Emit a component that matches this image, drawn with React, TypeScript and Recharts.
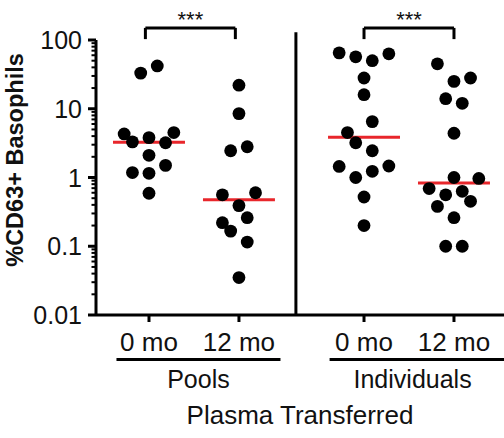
import React from 'react';
import { ScatterChart, Scatter, XAxis, YAxis, ReferenceLine } from 'recharts';

// ---- labels ----
const timepointLabels = ['0 mo', '12 mo', '0 mo', '12 mo'];
const groupLabels = ['Pools', 'Individuals'];
const yMajorTicks = [0.01, 0.1, 1, 10, 100];
const yTickLabels = ['0.01', '0.1', '1', '10', '100'];
const significance = ['***', '***'];
const yTitle = '%CD63+ Basophils';
const xTitle = 'Plasma Transferred';

// ---- data (value, jitter lane) ----
const pools0mo = [33, 42, 4.3, 3.3, 3.8, 3.2, 4.5, 2.1, 1.18, 1.15, 1.5, 0.59];
const pools0moLane = [-1, 1, -3, -2, 0, 2, 3, 0, -2, 0, 2, 0];
const pools12mo = [22, 8.5, 2.45, 2.8, 0.56, 0.6, 0.39, 0.26, 0.22, 0.166, 0.115, 0.035];
const pools12moLane = [0, 0, -1, 1, -2, 2, 0, 1, -2, -1, 1, 0];
const indiv0mo = [65, 57, 50, 63, 28, 16, 6.5, 4.5, 3.2, 2.45, 1.45, 1.47, 1.23, 1.0, 0.52, 0.2];
const indiv0moLane = [-3, -1, 1, 3, 0, 0, 1, -2, -1, 1, -3, 3, 1, -1, 0, 0];
const indiv12mo = [45, 25, 28, 14, 12, 4.4, 1.0, 0.97, 0.69, 0.56, 0.63, 0.45, 0.38, 0.26, 0.1, 0.1];
const indiv12moLane = [-2, 0, 2, -1, 1, 0, 0, 3, -3, -1, 1, 2, -2, 0, -1, 1];

// ---- layout constants (axis units) ----
const slotX = [1, 2, 3.39, 4.39];
const bracketX = [0.96, 1.96, 3.39, 4.39];
const groupX = [1.55, 3.93];
const laneStep = 0.092;
const xDomain = [0.411, 4.946];
const dividerX = 2.633;
const medianHalf = 0.4;
const bracketTop = 150;
const bracketBottom = 103;
const dividerTop = 130;

const seriesValues = [pools0mo, pools12mo, indiv0mo, indiv12mo];
const seriesLanes = [pools0moLane, pools12moLane, indiv0moLane, indiv12moLane];

const seriesData = seriesValues.map((vals, s) =>
  vals.map((v, i) => ({ x: slotX[s] + seriesLanes[s][i] * laneStep, y: v }))
);

const median = (arr: number[]) => {
  const a = [...arr].sort((p, q) => p - q);
  const n = a.length;
  return n % 2 ? a[(n - 1) / 2] : (a[n / 2 - 1] + a[n / 2]) / 2;
};

const minorTicks: number[] = [];
[0.01, 0.1, 1, 10].forEach((d) => {
  for (let k = 2; k <= 9; k++) minorTicks.push(d * k);
});
const allYTicks = [...yMajorTicks, ...minorTicks].sort((a, b) => a - b);

const YTick = (props: any) => {
  const { x, y, payload } = props;
  const v = payload.value;
  const idx = yMajorTicks.findIndex((t) => Math.abs(t - v) / t < 1e-6);
  const major = idx >= 0;
  return (
    <g>
      <line x1={x - (major ? 8 : 4.5)} x2={x} y1={y} y2={y} stroke="#000" strokeWidth={major ? 3 : 2} />
      {major && (
        <text x={x - 14} y={y} dy="0.36em" textAnchor="end" fontSize={25} fill="#111">
          {yTickLabels[idx]}
        </text>
      )}
    </g>
  );
};

const underlineOffsets = [
  [-82, 82],
  [-83, 95],
];

const GroupTick = (props: any) => {
  const { x, y, index } = props;
  const off = underlineOffsets[index] || [-82, 82];
  return (
    <g>
      <line x1={x + off[0]} x2={x + off[1]} y1={y + 4.5} y2={y + 4.5} stroke="#000" strokeWidth={3} />
      <text x={x} y={y + 33} textAnchor="middle" fontSize={25} fill="#111">
        {groupLabels[index]}
      </text>
    </g>
  );
};

const Dot = (p: any) => <circle cx={p.cx} cy={p.cy} r={6.4} fill="#000" />;

export default function App() {
  const medians = seriesValues.map(median);
  return (
    <div
      style={{
        position: 'absolute',
        left: 0,
        top: 0,
        width: 504,
        height: 438,
        background: '#fff',
        fontFamily: '"Liberation Sans", Arial, sans-serif',
      }}
    >
      <ScatterChart width={504} height={438} margin={{ top: 40, right: 0, bottom: 0, left: 0 }}>
        <XAxis
          type="number"
          dataKey="x"
          domain={xDomain}
          allowDataOverflow
          ticks={slotX}
          interval={0}
          tickFormatter={(v: number, i: number) => timepointLabels[i]}
          height={40}
          tickSize={7}
          tickMargin={10.5}
          tickLine={{ stroke: '#000', strokeWidth: 3 }}
          axisLine={{ stroke: '#000', strokeWidth: 3 }}
          tick={{ fontSize: 26, fill: '#111' }}
        />
        <XAxis
          xAxisId="g"
          type="number"
          dataKey="x"
          domain={xDomain}
          allowDataOverflow
          ticks={groupX}
          interval={0}
          height={83}
          tickSize={0}
          tickMargin={0}
          axisLine={false}
          tickLine={false}
          tick={<GroupTick />}
          label={{ value: xTitle, position: 'insideBottom', offset: 14, fontSize: 26, fill: '#111' }}
        />
        <YAxis
          type="number"
          dataKey="y"
          scale="log"
          domain={[0.01, 100]}
          allowDataOverflow
          ticks={allYTicks}
          interval={0}
          width={96}
          tickSize={0}
          tickMargin={0}
          tickLine={false}
          tick={<YTick />}
          axisLine={{ stroke: '#000', strokeWidth: 3 }}
          label={{
            content: () => (
              <text
                x={22.5}
                y={160}
                transform="rotate(-90 22.5 160)"
                textAnchor="middle"
                fontSize={23.5}
                fontWeight="bold"
                fill="#111"
              >
                {yTitle}
              </text>
            ),
          }}
        />
        {seriesData.map((d, s) => (
          <Scatter key={s} data={d} fill="#000" shape={<Dot />} isAnimationActive={false} />
        ))}
        {medians.map((m, s) => (
          <ReferenceLine
            key={'m' + s}
            segment={[
              { x: slotX[s] - medianHalf, y: m },
              { x: slotX[s] + medianHalf, y: m },
            ]}
            stroke="#e8262b"
            strokeWidth={3}
            ifOverflow="visible"
          />
        ))}
        <ReferenceLine
          segment={[
            { x: dividerX, y: 0.01 },
            { x: dividerX, y: dividerTop },
          ]}
          stroke="#000"
          strokeWidth={3}
          ifOverflow="visible"
        />
        {significance.map((sig, g) => {
          const a = bracketX[g * 2];
          const b = bracketX[g * 2 + 1];
          return (
            <React.Fragment key={'b' + g}>
              <ReferenceLine
                segment={[
                  { x: a, y: bracketTop },
                  { x: b, y: bracketTop },
                ]}
                stroke="#000"
                strokeWidth={3}
                ifOverflow="visible"
                label={{ value: sig, position: 'top', offset: 1, fontSize: 22, fill: '#111' }}
              />
              <ReferenceLine
                segment={[
                  { x: a, y: bracketTop },
                  { x: a, y: bracketBottom },
                ]}
                stroke="#000"
                strokeWidth={3}
                ifOverflow="visible"
              />
              <ReferenceLine
                segment={[
                  { x: b, y: bracketTop },
                  { x: b, y: bracketBottom },
                ]}
                stroke="#000"
                strokeWidth={3}
                ifOverflow="visible"
              />
            </React.Fragment>
          );
        })}
      </ScatterChart>
    </div>
  );
}
